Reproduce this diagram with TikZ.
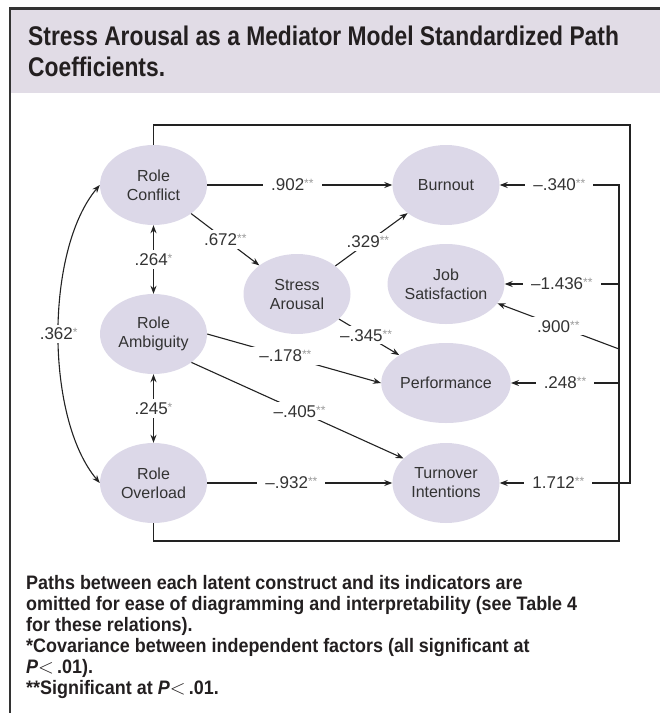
\documentclass[tikz,border=0pt]{standalone}
\usepackage{fontspec}
\setmainfont{Liberation Sans}
\newfontfamily\condsans[FakeStretch=0.845]{Liberation Sans}
\newfontfamily\condnote[FakeStretch=0.92]{Liberation Sans}
\usetikzlibrary{arrows.meta,shapes.geometric}
\definecolor{hdr}{HTML}{E1DCE6}
\definecolor{ell}{HTML}{DCD8E8}
\definecolor{txt}{HTML}{333333}
\definecolor{stargray}{HTML}{9A9A9A}
\definecolor{ln}{HTML}{222222}
\definecolor{frame}{HTML}{333333}
\definecolor{ink}{HTML}{231F20}
\newcommand\sigstars[1]{\textcolor{stargray}{\raisebox{3pt}{\fontsize{12}{12}\selectfont #1}}}
\newcommand\myNodeFont{\fontsize{16}{19}\selectfont}
\newcommand\myLabFont{\fontsize{17}{20}\selectfont}
\tikzset{
  latent/.style={ellipse, fill=ell, minimum width=107pt, minimum height=80pt, inner sep=0pt, align=center, text=txt, font=\myNodeFont},
  lab/.style={fill=white, inner xsep=8pt, inner ysep=3pt, text=txt, font=\myLabFont},
  conn/.style={line width=1.1pt, draw=ln},
  arr/.style={conn, -{Stealth[length=8pt,width=6pt]}},
  darr/.style={conn, {Stealth[length=8pt,width=6pt]}-{Stealth[length=8pt,width=6pt]}},
}
\begin{document}
\begin{tikzpicture}[x=1pt,y=-1pt]
\useasboundingbox (0,0) rectangle (660,713);
% outer frame and header
\fill[hdr] (10,9) rectangle (660,93);
\draw[line width=2.2pt, frame] (10,713) -- (10,8.5) -- (660,8.5);
\node[anchor=base west, align=left, text=ink, inner sep=0pt, font={\condsans\bfseries\fontsize{27}{31}\selectfont}] (title) at (28,76)
  {Stress Arousal as a Mediator Model Standardized Path\\Coefficients.};
% latent constructs
\node[latent] (rc) at (153.5,185) {Role\\Conflict};
\node[latent] (ra) at (153.5,334) {Role\\Ambiguity};
\node[latent] (ro) at (153.5,483) {Role\\Overload};
\node[latent] (sa) at (297,294) {Stress\\Arousal};
\node[latent] (bo) at (446,185) {Burnout};
\node[latent] (js) at (446,284) {Job\\Satisfaction};
\node[latent] (pf) at (446,383) {Performance};
\node[latent] (to) at (446,483) {Turnover\\Intentions};
% corner points of the long paths
\coordinate (tr) at (630,125);
\coordinate (trb) at (630,483);
\coordinate (br) at (619,541);
\coordinate (bt) at (619,185);
\coordinate (bj) at (619,284);
\coordinate (bk) at (619,349);
\coordinate (bp) at (619,383);
% paths
\draw[arr] (rc) -- node[lab,pos=0.46]{.902\sigstars{**}} (bo);
\draw[arr] (rc) -- node[lab,pos=0.5]{.672\sigstars{**}} (sa);
\draw[arr] (sa) -- node[lab,pos=0.45]{.329\sigstars{**}} (bo);
\draw[arr] (sa) -- node[lab,pos=0.45]{–.345\sigstars{**}} (pf);
\draw[arr] (ra.east) -- node[lab,pos=0.45]{–.178\sigstars{**}} (pf.west);
\draw[arr] (ra.south east) -- node[lab,pos=0.51]{–.405\sigstars{**}} (to.150);
\draw[arr] (ro) -- node[lab,pos=0.455]{–.932\sigstars{**}} (to);
\draw[darr] (rc) -- node[lab]{.264\sigstars{*}} (ra);
\draw[darr] (ra) -- node[lab]{.245\sigstars{*}} (ro);
\draw[darr] (rc.west) .. controls (45,250) and (45,418) .. node[lab,pos=0.5]{.362\sigstars{*}} (ro.west);
\draw[arr] (rc.north) |- (tr) -- (trb) -- node[lab,pos=0.55]{1.712\sigstars{**}} (to.east);
\draw[arr] (ro.south) |- (br) -- (bt) -- node[lab,pos=0.5]{–.340\sigstars{**}} (bo.east);
\draw[arr] (bj) -- node[lab,pos=0.5]{–1.436\sigstars{**}} (js.east);
\draw[arr] (bk) -- node[lab,pos=0.5]{.900\sigstars{**}} (js);
\draw[arr] (bp) -- node[lab,pos=0.5]{.248\sigstars{**}} (pf.east);
% footnote
\node[anchor=base west, align=left, text=ink, inner sep=0pt, font={\condnote\bfseries\fontsize{19.5}{21}\selectfont}] (note) at (26,694)
  {Paths between each latent construct and its indicators are\\
   omitted for ease of diagramming and interpretability (see Table 4\\
   for these relations).\\
   *Covariance between independent factors (all significant at\\
   \textit{P}$<$\,.01).\\
   **Significant at \textit{P}$<$\,.01.};
\end{tikzpicture}
\end{document}
